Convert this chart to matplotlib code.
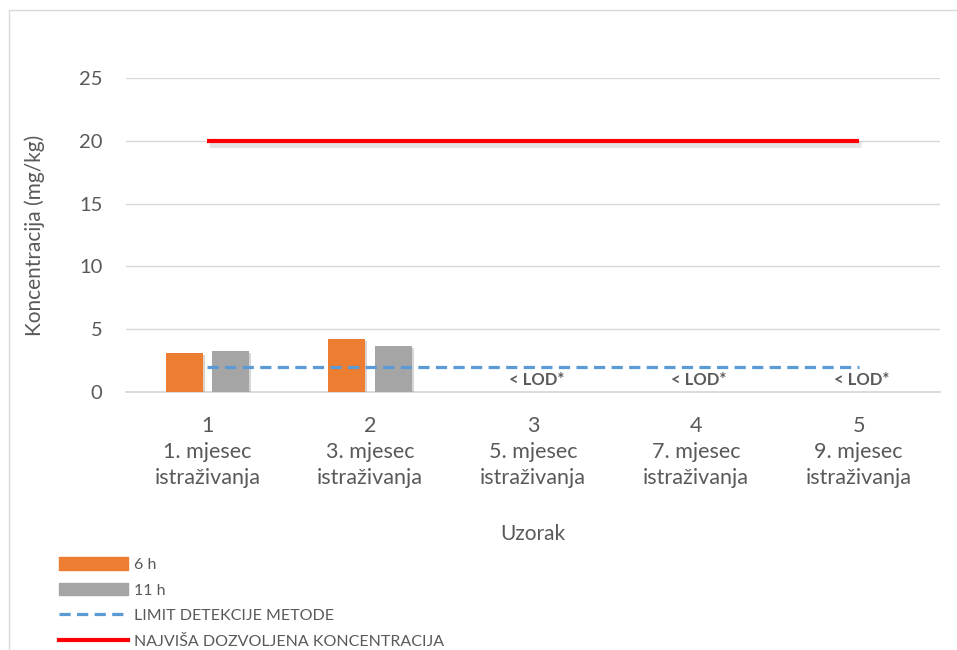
import numpy as np
import matplotlib
matplotlib.use("Agg")
import matplotlib.pyplot as plt
import matplotlib.patheffects as pe
from matplotlib.patches import Patch, Rectangle
from matplotlib.lines import Line2D

plt.rcParams['font.family'] = ['Lato', 'DejaVu Sans']

uzorci = [1, 2, 3, 4, 5]
mjeseci = ["1. mjesec\nistraživanja", "3. mjesec\nistraživanja", "5. mjesec\nistraživanja",
           "7. mjesec\nistraživanja", "9. mjesec\nistraživanja"]
sati_6 = [3.1, 4.2, np.nan, np.nan, np.nan]
sati_11 = [3.3, 3.7, np.nan, np.nan, np.nan]
lod = [2.0, 2.0, 2.0, 2.0, 2.0]
max_dozv = [20, 20, 20, 20, 20]
ispod_lod = [3, 4, 5]

siva = "#595959"

fig = plt.figure(figsize=(9.57, 6.5), dpi=100)
fig.patches.append(Rectangle((9 / 957, -0.1), 1.2, (640 / 650) + 0.1, transform=fig.transFigure,
                             fill=False, edgecolor="#D9D9D9", linewidth=1))

ax = fig.add_axes([126 / 957, (650 - 392) / 650, 814 / 957, 314 / 650])
x = np.array(uzorci, dtype=float)
sirina = 0.227
sjena = [pe.SimplePatchShadow(offset=(1.5, -1.5), alpha=0.2), pe.Normal()]
ax.bar(x - 0.143, sati_6, width=sirina, color="#ED7D31", zorder=3, path_effects=sjena)
ax.bar(x + 0.143, sati_11, width=sirina, color="#A5A5A5", zorder=3, path_effects=sjena)

ax.plot(x, lod, color="#5B9BD5", linewidth=2.3, dashes=(3.5, 2), zorder=4)
ax.plot(x, max_dozv, color="#FF0000", linewidth=3, solid_capstyle="butt", zorder=4,
        path_effects=[pe.SimpleLineShadow(offset=(1.5, -2.5), alpha=0.1, linewidth=5), pe.Normal()])

for u in ispod_lod:
    ax.text(u + 0.02, 0.95, "< LOD*", ha="center", va="center", fontsize=12,
            fontweight="bold", color=siva)

ax.set_xlim(0.5, 5.5)
ax.set_ylim(0, 25)
ax.set_yticks([0, 5, 10, 15, 20, 25])
ax.yaxis.grid(True, color="#D9D9D9", linewidth=1)
ax.set_axisbelow(True)
for s in ["top", "right", "left"]:
    ax.spines[s].set_visible(False)
ax.spines["bottom"].set_color("#D9D9D9")
ax.spines["bottom"].set_linewidth(1.3)
ax.tick_params(axis="y", length=0, pad=17, labelsize=14.5, labelcolor=siva)
ax.tick_params(axis="x", length=0, pad=17, labelsize=15.5, labelcolor=siva)
ax.set_xticks(uzorci, [f"{u}\n{m}" for u, m in zip(uzorci, mjeseci)])
for t in ax.get_xticklabels():
    t.set_linespacing(1.38)

ax.set_ylabel("Koncentracija (mg/kg)", fontsize=15, color=siva)
ax.yaxis.set_label_coords(-0.099, 0.5)
ax.set_xlabel("Uzorak", fontsize=15, color=siva)
ax.xaxis.set_label_coords(0.5, -0.42)

rucke = [Patch(color="#ED7D31"), Patch(color="#A5A5A5"),
         Line2D([], [], color="#5B9BD5", linewidth=2.3, dashes=(3.5, 2)),
         Line2D([], [], color="#FF0000", linewidth=3)]
nazivi = ["6 h", "11 h", "LIMIT DETEKCIJE METODE", "NAJVIŠA DOZVOLJENA KONCENTRACIJA"]
leg = fig.legend(rucke, nazivi, loc="upper left", bbox_to_anchor=(53 / 957, 1 - 551 / 650),
                 frameon=False, fontsize=11.5, handlelength=4.3, handleheight=0.8,
                 labelspacing=0.68, handletextpad=0.35, borderaxespad=0)
for t in leg.get_texts():
    t.set_color(siva)

fig.savefig("out.png", dpi=100)
